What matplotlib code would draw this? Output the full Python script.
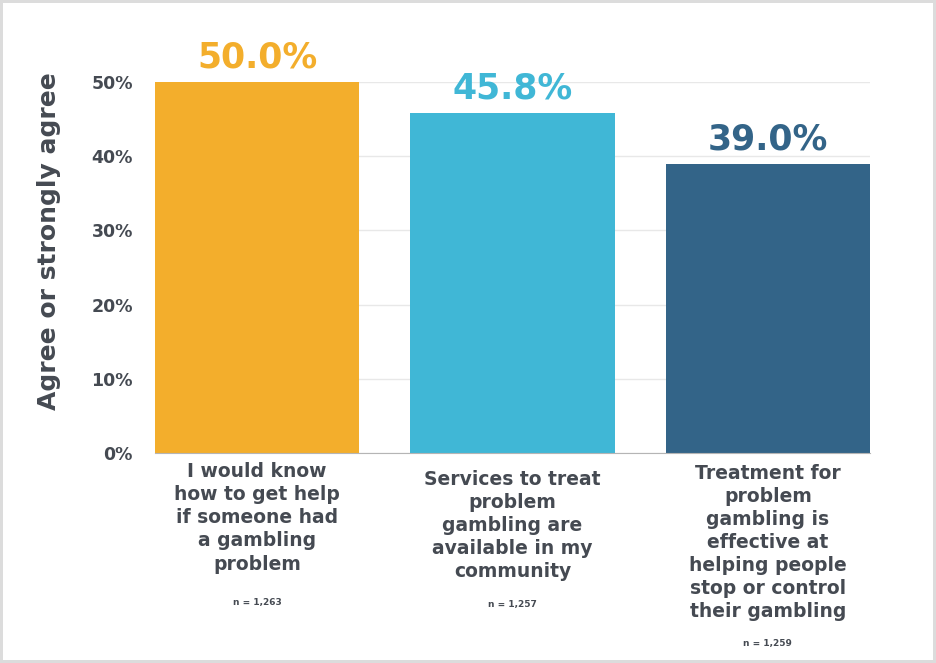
import matplotlib.pyplot as plt
from matplotlib.transforms import blended_transform_factory

categories = [
    "I would know\nhow to get help\nif someone had\na gambling\nproblem",
    "Services to treat\nproblem\ngambling are\navailable in my\ncommunity",
    "Treatment for\nproblem\ngambling is\neffective at\nhelping people\nstop or control\ntheir gambling",
]
values = [50.0, 45.8, 39.0]
n_labels = ["n = 1,263", "n = 1,257", "n = 1,259"]
yticks = [0, 10, 20, 30, 40, 50]
colors = ["#F3AE2C", "#40B7D6", "#336488"]
text_gray = "#454A52"

plt.rcParams['font.family'] = ['DejaVu Sans']

fig = plt.figure(figsize=(9.36, 6.63), dpi=100, linewidth=4, edgecolor="#dcdcdc")
ax = fig.add_axes([0.1656, 0.3167, 0.7639, 0.5596])

x = list(range(len(values)))
ax.bar(x, values, width=0.8, color=colors, zorder=3)
ax.set_xlim(-0.4, 2.4)
ax.set_ylim(0, 50)

# value labels above bars
for xi, v, c in zip(x, values, colors):
    ax.text(xi, v + 1.0, f"{v:.1f}%", ha="center", va="bottom", fontsize=25,
            fontweight="bold", color=c, clip_on=False)

ax.set_yticks(yticks)
ax.set_yticklabels([f"{t}%" for t in yticks], fontsize=12.5, fontweight="bold", color=text_gray)
ax.tick_params(axis="y", length=0, pad=16)
ax.tick_params(axis="x", length=0)
ax.set_xticks([])
ax.grid(axis="y", color="#e8e8e8", linewidth=1, zorder=0)
for s in ["top", "right", "left"]:
    ax.spines[s].set_visible(False)
ax.spines["bottom"].set_color("#b5b5b5")
ax.spines["bottom"].set_zorder(4)

ax.set_ylabel("Agree or strongly agree", fontsize=18, fontweight="bold", color=text_gray)
ax.yaxis.set_label_coords(-0.132, 0.57)

# category labels + sample sizes under the bars
trans = blended_transform_factory(ax.transData, ax.transAxes)
label_y = [-0.025, -0.045, -0.03]
n_y = [-0.39, -0.395, -0.5]
for xi, lab, ly, nl, ny in zip(x, categories, label_y, n_labels, n_y):
    ax.text(xi, ly, lab, transform=trans, ha="center", va="top", fontsize=13.5,
            fontweight="bold", color=text_gray, linespacing=1.27)
    ax.text(xi, ny, nl, transform=trans, ha="center", va="top", fontsize=6.5,
            fontweight="bold", color=text_gray)

fig.savefig("out.png", dpi=100, edgecolor=fig.get_edgecolor())
